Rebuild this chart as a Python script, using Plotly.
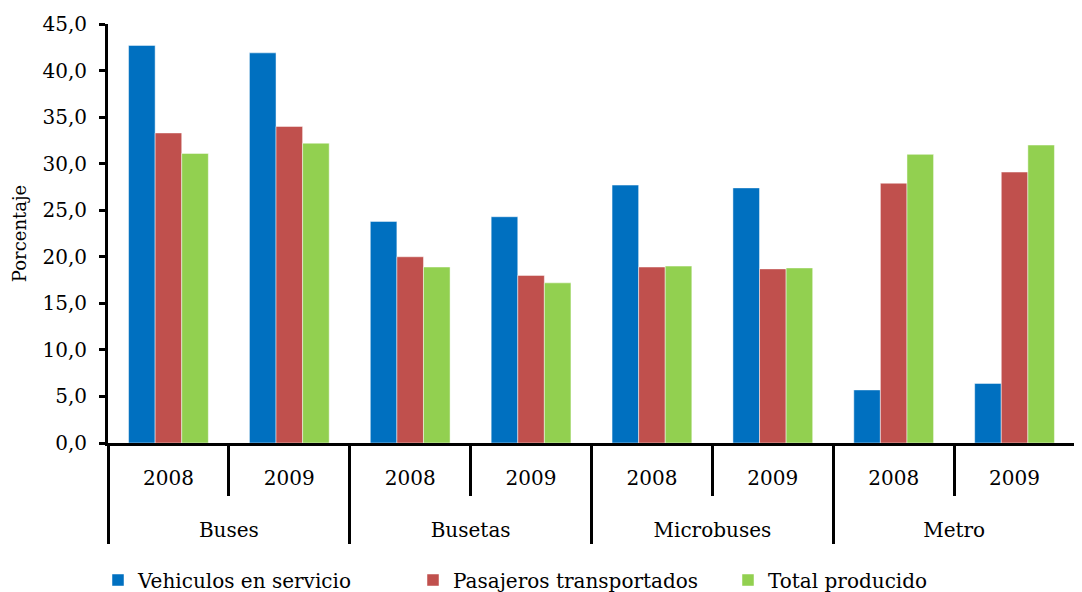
import plotly.graph_objects as go

# Data
grupos = ["Buses", "Buses", "Busetas", "Busetas", "Microbuses", "Microbuses", "Metro", "Metro"]
anios = ["2008", "2009", "2008", "2009", "2008", "2009", "2008", "2009"]

vehiculos = [42.7, 41.9, 23.8, 24.3, 27.7, 27.4, 5.7, 6.4]
pasajeros = [33.3, 34.0, 20.0, 18.0, 18.9, 18.7, 27.9, 29.1]
total = [31.1, 32.2, 18.9, 17.2, 19.0, 18.8, 31.0, 32.0]

series = [
    ("Vehiculos en servicio", vehiculos, "#0070C0"),
    ("Pasajeros transportados", pasajeros, "#C0504D"),
    ("Total producido", total, "#92D050"),
]

# spacing tricks so the two label levels sit further apart:
# an empty line before the group names and a tall blank around the years
pad = "<span style='font-size:33px'>\u00a0</span>"
grupos_lbl = ["<br>" + g for g in grupos]
anios_lbl = [pad + a + pad for a in anios]

fig = go.Figure()

for name, vals, color in series:
    fig.add_trace(go.Bar(
        x=[grupos_lbl, anios_lbl],
        y=vals,
        name=name,
        marker=dict(color=color, line=dict(color="rgba(255,255,255,0.6)", width=0.8)),
    ))

font_family = '"DejaVu Serif", serif'

# the page body adds an 8px margin, so the figure is 8px smaller than the window
fig.update_layout(
    width=1074,
    height=584,
    barmode="group",
    bargap=0.34,
    bargroupgap=0,
    separators=",.",
    plot_bgcolor="white",
    paper_bgcolor="white",
    font=dict(family=font_family, size=20, color="black"),
    margin=dict(l=100, r=7, t=16, b=149),
    legend=dict(
        orientation="h",
        xref="container",
        yref="container",
        x=0.0838,
        y=0.0205,
        xanchor="left",
        yanchor="middle",
        entrywidth=270,
        entrywidthmode="pixels",
        font=dict(family=font_family, size=20),
    ),
    showlegend=True,
)

# Title of the original figure, cut off at the top edge
fig.add_annotation(
    text="1998 – 2009",
    xref="paper", yref="paper",
    x=-0.112, y=1.025,
    xanchor="left", yanchor="bottom",
    showarrow=False,
    font=dict(family=font_family, size=22, color="black"),
)

fig.update_yaxes(
    range=[0, 45],
    dtick=5,
    tickformat=".1f",
    automargin=False,
    showgrid=False,
    zeroline=False,
    showline=True,
    linecolor="black",
    linewidth=3,
    ticks="outside",
    ticklen=6,
    tickwidth=3,
    tickcolor="black",
    ticklabelstandoff=8,
    title=dict(text="Porcentaje", font=dict(family=font_family, size=18), standoff=12),
)

fig.update_xaxes(
    type="multicategory",
    tickson="boundaries",
    automargin=False,
    showgrid=False,
    showline=True,
    linecolor="black",
    linewidth=3,
    ticks="outside",
    ticklen=50,
    tickwidth=3,
    tickcolor="black",
    ticklabelstandoff=15,
    showdividers=True,
    dividercolor="black",
    dividerwidth=3,
)

fig.write_html("out.html")
